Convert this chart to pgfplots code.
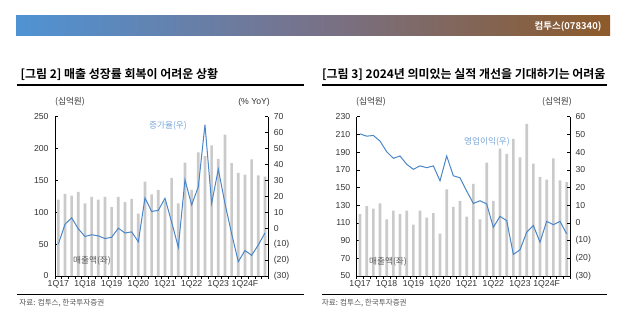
\documentclass[border=0pt]{standalone}
\usepackage{pgfplots}
\usepackage{pgfplotstable}
\pgfplotsset{compat=1.18}
\usepackage{fontspec}
\setmainfont{Liberation Sans}
\newfontfamily\kr[BoldFont={Noto Sans CJK KR Bold}]{Noto Sans CJK KR}
\definecolor{barg}{HTML}{CACACA}
\definecolor{lineb}{HTML}{4A86C8}
\definecolor{annb}{HTML}{7BA7DA}
\definecolor{txtg}{HTML}{333333}
\definecolor{hdrL}{HTML}{4F93D4}
\definecolor{hdrM}{HTML}{77728A}
\definecolor{hdrR}{HTML}{8C5A2A}

\pgfplotstableread{
x sales g op
0 120 -10.0 50.3
1 129 2.5 49.0
2 126 6.5 49.4
3 132 -0.4 46.2
4 114 -5.2 40.2
5 124 -4.1 36.5
6 120 -4.8 37.8
7 124 -6.5 33.1
8 108 -5.7 30.3
9 124 0.0 32.2
10 116 -3.0 31.2
11 121 -2.3 32.2
12 98 -8.5 23.8
13 148 19.0 37.8
14 128 10.5 26.6
15 135 11.2 25.5
16 117 18.8 18.0
17 154 3.8 11.0
18 114 -12.0 12.5
19 178 30.4 10.7
20 135 14.6 -2.5
21 194 26.0 3.7
22 188 65.0 1.3
23 205 15.6 -17.8
24 184 37.0 -15.2
25 222 15.5 -5.3
26 177 -3.5 -1.5
27 162 -21.0 -10.9
28 159 -14.0 0.9
29 183 -17.0 -1.0
30 158 -10.5 0.9
31 156 -3.0 -6.2
}\data

\pgfplotsset{
  base/.style={
    anchor=south west, width=213.3bp, height=159.3bp, scale only axis,
    xmin=-0.5, xmax=31.5,
    tick label style={font=\fontsize{8.7}{10}\selectfont, text=txtg},
    /pgf/number format/assume math mode=true,
    axis line style={black, line width=0.8bp, -},
    tick style={black, line width=0.6bp},
    major tick length=3bp, minor tick length=3bp,
    tick align=inside,
    clip=false,
  },
  barax/.style={
    base, axis x line*=bottom, axis y line*=left,
    xtick={-0.5,0.5,...,31.5}, xticklabels={},
    extra x ticks={0,4,...,28},
    extra x tick labels={1Q17,1Q18,1Q19,1Q20,1Q21,1Q22,1Q23,1Q24F},
    extra x tick style={major tick length=0pt, tick label style={yshift=-1bp}},
    ybar, bar width=0.4,
    yticklabel style={xshift=-3bp},
  },
  lineax/.style={
    base, axis y line*=right, axis x line=none,
    yticklabel style={xshift=2bp},
  },
}

\begin{document}
\begin{tikzpicture}
\path[use as bounding box] (0bp,0bp) rectangle (627bp,322bp);

% ---------- axes ----------
\begin{axis}[barax, at={(55bp,46bp)}, ymin=0, ymax=250, ytick={0,50,...,250}]
\addplot[fill=barg, draw=none] table[x=x,y=sales]{\data};
\end{axis}
\begin{axis}[lineax, at={(55bp,46bp)}, ymin=-30, ymax=70, ytick={-30,-20,...,70},
  yticklabels={(30),(20),(10),0,10,20,30,40,50,60,70}]
\addplot[lineb, line width=1bp, mark=none] table[x=x,y=g]{\data};
\end{axis}

\begin{axis}[barax, at={(356.7bp,46bp)}, ymin=50, ymax=230, ytick={50,70,...,230}]
\addplot[fill=barg, draw=none] table[x=x,y=sales]{\data};
\end{axis}
\begin{axis}[lineax, at={(356.7bp,46bp)}, ymin=-30, ymax=60, ytick={-30,-20,...,60},
  yticklabels={(30),(20),(10),0,10,20,30,40,50,60}]
\addplot[lineb, line width=1bp, mark=none] table[x=x,y=op]{\data};
\end{axis}

% ---------- texts (top-left origin) ----------
\begin{scope}[x=1bp, y=-1bp, shift={(0,-322)}]
\shade[left color=hdrL, right color=hdrR, middle color=hdrM] (16,16) rectangle (610,36);
\node[anchor=east, text=white, font=\kr\bfseries\fontsize{9.5}{11}\selectfont] at (605,26) {컴투스(078340)};

\node[anchor=west, inner xsep=0pt, font=\kr\bfseries\fontsize{12}{14}\selectfont] at (20.5,74.5) {[그림 2] 매출 성장률 회복이 어려운 상황};
\draw[line width=1.1bp] (17,85) -- (304,85);
\node[font=\kr\fontsize{8.7}{10}\selectfont, text=txtg] at (70,102) {(십억원)};
\node[font=\fontsize{8.7}{10}\selectfont, text=txtg] at (254,102) {(\% YoY)};
\node[font=\kr\fontsize{8.7}{10}\selectfont, text=annb] at (168,126) {증가율(우)};
\node[font=\kr\fontsize{8.7}{10}\selectfont, text=txtg!80] at (92,261) {매출액(좌)};
\draw[line width=1.1bp] (17,294.3) -- (304,294.3);
\node[anchor=west, font=\kr\fontsize{7.6}{9}\selectfont, text=txtg!85, inner xsep=0pt] at (19.3,302.7) {자료: 컴투스, 한국투자증권};

\node[anchor=west, inner xsep=0pt, font=\kr\bfseries\fontsize{12}{14}\selectfont] at (322,74.5) {[그림 3] 2024년 의미있는 실적 개선을 기대하기는 어려움};
\draw[line width=1.1bp] (321.7,85) -- (606.7,85);
\node[font=\kr\fontsize{8.7}{10}\selectfont, text=txtg] at (371,102) {(십억원)};
\node[font=\kr\fontsize{8.7}{10}\selectfont, text=txtg] at (557,102) {(십억원)};
\node[font=\kr\fontsize{8.7}{10}\selectfont, text=annb] at (487,142) {영업이익(우)};
\node[font=\kr\fontsize{8.7}{10}\selectfont, text=txtg!80] at (388,262) {매출액(좌)};
\draw[line width=1.1bp] (321.7,294.3) -- (606.7,294.3);
\node[anchor=west, font=\kr\fontsize{7.6}{9}\selectfont, text=txtg!85, inner xsep=0pt] at (321.7,302.7) {자료: 컴투스, 한국투자증권};
\end{scope}
\end{tikzpicture}
\end{document}
